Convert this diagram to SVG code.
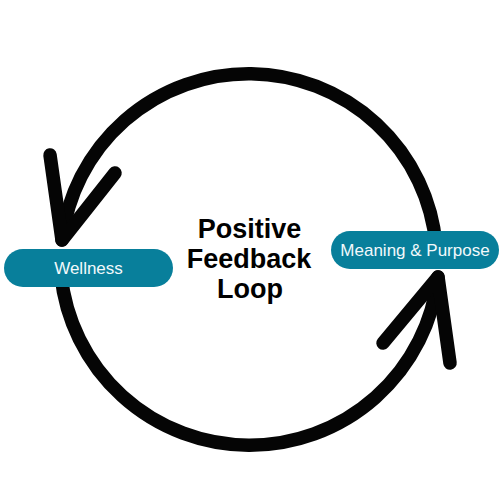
<svg xmlns="http://www.w3.org/2000/svg" width="500" height="500" viewBox="0 0 500 500">
<style>
.loop{fill:none;stroke:#050505;stroke-width:13.5;stroke-linecap:round;stroke-linejoin:round}
.pill{fill:#087f9b}
.pt{font-family:"Liberation Sans",Arial,sans-serif;font-size:17px;fill:#f2f9fb;text-anchor:middle}
.title{font-family:"Liberation Sans",Arial,sans-serif;font-weight:bold;font-size:27px;fill:#000;text-anchor:middle}
</style>
<rect width="500" height="500" fill="#fff"/>
<g id="connectors">
<path class="loop" d="M436 245 A188 188 0 0 0 62 240"/>
<polyline class="loop" points="50,155 62,240 115,173"/>
<path class="loop" d="M61 275 A189.6 189.6 0 0 0 438 277"/>
<polyline class="loop" points="450,363 438,277 383,343"/>
</g>
<g id="wellness">
<rect class="pill" x="4" y="249" width="169" height="38" rx="19"/>
<text class="pt" x="88.5" y="274">Wellness</text>
</g>
<g id="meaning">
<rect class="pill" x="331" y="231" width="168" height="38" rx="19"/>
<text class="pt" x="415" y="256">Meaning &amp; Purpose</text>
</g>
<g id="title">
<text class="title" x="249.5" y="238">Positive</text>
<text class="title" x="249" y="268">Feedback</text>
<text class="title" x="250" y="298">Loop</text>
</g>
</svg>
